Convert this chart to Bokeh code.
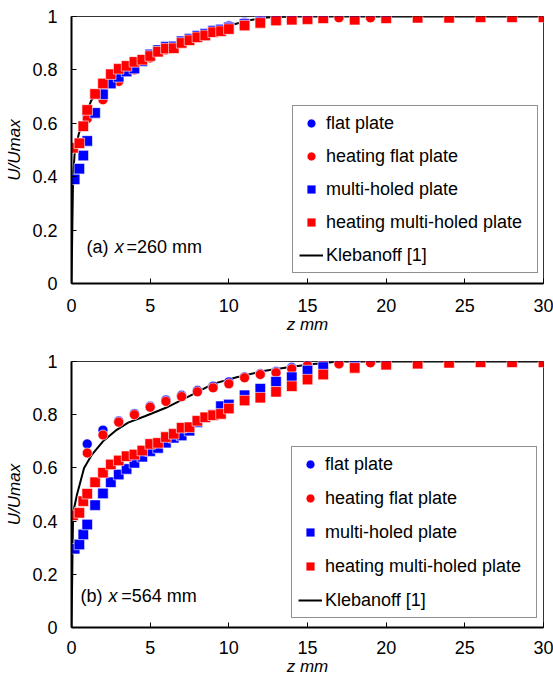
from bokeh.plotting import figure
from bokeh.layouts import column
from bokeh.models import (Range1d, FixedTicker, CustomJSTickFormatter, Legend,
                          LegendItem, Label)
from bokeh.embed import file_html
from bokeh.resources import INLINE

FONT = "Liberation Sans"

# ---------------- data: (a) x = 260 mm ----------------
a_circ_z = [1, 2, 3, 4, 5, 6, 7, 8, 9, 10, 11, 12, 13, 14, 15, 16, 17, 19]
a_flat_u = [0.63, 0.70, 0.765, 0.81, 0.852, 0.88, 0.905, 0.925, 0.948, 0.965,
            0.978, 0.988, 0.993, 0.996, 0.998, 0.999, 0.998, 0.999]
a_hflat_u = [0.617, 0.688, 0.757, 0.80, 0.845, 0.875, 0.90, 0.92, 0.943, 0.96,
             0.975, 0.985, 0.99, 0.993, 0.995, 0.997, 0.995, 0.995]
a_multi_z = [0.2, 0.5, 0.75, 1, 1.5, 2, 2.5, 3, 3.5, 4, 4.5, 5, 5.5, 6, 6.5, 7,
             7.5, 8, 8.5, 9, 9.5, 10, 11, 12, 13, 14, 15, 16, 18, 20]
a_multi_u = [0.39, 0.43, 0.479, 0.534, 0.639, 0.709, 0.749, 0.774, 0.794, 0.805,
             0.832, 0.858, 0.874, 0.887, 0.888, 0.907, 0.917, 0.928, 0.935, 0.947,
             0.951, 0.959, 0.972, 0.982, 0.99, 0.993, 0.995, 0.997, 0.995, 0.998]
a_hmulti_z = [0.1, 0.5, 0.75, 1, 1.5, 2, 2.5, 3, 3.5, 4, 4.5, 5, 5.5, 6, 6.5, 7,
              7.5, 8, 8.5, 9, 9.5, 10, 11, 12, 13, 14, 15, 16, 18, 20, 22, 24,
              26, 28, 30]
a_hmulti_u = [0.508, 0.525, 0.589, 0.65, 0.71, 0.749, 0.784, 0.804, 0.815, 0.83,
              0.838, 0.852, 0.868, 0.88, 0.881, 0.901, 0.911, 0.922, 0.929, 0.941,
              0.945, 0.953, 0.966, 0.976, 0.985, 0.988, 0.99, 0.993, 0.988, 0.993,
              0.995, 0.995, 0.997, 0.997, 0.997]
a_kleb_z = [0, 0.1, 0.2, 0.46, 1.25, 2, 3, 4, 5, 6, 7, 8, 9, 10.4, 11.4, 12.4, 14, 30]
a_kleb_u = [0, 0.40, 0.487, 0.56, 0.685, 0.74, 0.785, 0.82, 0.85, 0.875, 0.895,
            0.915, 0.94, 0.972, 0.987, 0.996, 1.0, 1.0]

# ---------------- data: (b) x = 564 mm ----------------
b_circ_z = [1, 2, 3, 4, 5, 6, 7, 8, 9, 10, 11, 12, 13, 14, 15, 16, 17, 19]
b_flat_u = [0.69, 0.742, 0.776, 0.804, 0.832, 0.855, 0.873, 0.891, 0.907, 0.923,
            0.942, 0.954, 0.962, 0.977, 0.988, 0.997, 0.994, 0.997]
b_hflat_u = [0.656, 0.724, 0.772, 0.80, 0.828, 0.85, 0.868, 0.886, 0.901, 0.916,
             0.939, 0.951, 0.958, 0.972, 0.985, 0.995, 0.991, 0.995]
b_multi_z = [0.2, 0.5, 0.75, 1, 1.5, 2, 2.5, 3, 3.5, 4, 4.5, 5, 5.5, 6, 6.5, 7,
             7.5, 8, 8.5, 9, 9.5, 10, 11, 12, 13, 14, 15, 16, 18, 20]
b_multi_u = [0.296, 0.312, 0.35, 0.387, 0.46, 0.504, 0.546, 0.575, 0.596, 0.619,
             0.642, 0.663, 0.675, 0.695, 0.713, 0.722, 0.74, 0.772, 0.79, 0.8,
             0.832, 0.838, 0.873, 0.898, 0.924, 0.941, 0.966, 0.979, 0.995, 0.998]
b_hmulti_z = [0.1, 0.5, 0.75, 1, 1.5, 2, 2.5, 3, 3.5, 4, 4.5, 5, 5.5, 6, 6.5, 7,
              7.5, 8, 8.5, 9, 9.5, 10, 11, 12, 13, 14, 15, 16, 18, 20, 22, 24,
              26, 28, 30]
b_hmulti_u = [0.422, 0.431, 0.475, 0.503, 0.546, 0.582, 0.613, 0.628, 0.644, 0.65,
              0.665, 0.69, 0.694, 0.716, 0.728, 0.751, 0.753, 0.777, 0.79, 0.798,
              0.803, 0.823, 0.853, 0.864, 0.886, 0.907, 0.932, 0.951, 0.976, 0.988,
              0.992, 0.995, 0.997, 0.997, 0.997]
b_kleb_z = [0, 0.1, 0.35, 0.8, 1.3, 2, 2.8, 3.6, 4.7, 6, 7.9, 9, 10.5, 12.2, 13.9,
            15.4, 17, 30]
b_kleb_u = [0, 0.43, 0.5, 0.6, 0.65, 0.70, 0.74, 0.77, 0.795, 0.826, 0.882, 0.916,
            0.941, 0.964, 0.979, 0.991, 1.0, 1.0]

x_ticks = [0, 5, 10, 15, 20, 25, 30]
y_ticks = [0, 0.2, 0.4, 0.6, 0.8, 1.0]
labels = ["flat plate", "heating flat plate", "multi-holed plate",
          "heating multi-holed plate", "Klebanoff [1]"]

BLUE = "#0000FF"
RED = "#FF0000"


def make_panel(height, top, bottom, xstand, circ_z, flat_u, hflat_u, multi_z,
               multi_u, hmulti_z, hmulti_u, kleb_z, kleb_u, tag, xval, tagx,
               leg_spacing, leg_loc):
    p = figure(width=553, height=height, output_backend="svg",
               toolbar_location=None, x_range=Range1d(0, 30),
               y_range=Range1d(0, 1), min_border_left=71, min_border_right=10,
               min_border_top=top, min_border_bottom=bottom)
    p.grid.visible = False
    p.outline_line_color = "#333333"
    p.outline_line_width = 1
    p.background_fill_color = "white"
    p.border_fill_color = "white"

    kl = p.line(kleb_z, kleb_u, line_color="black", line_width=2)
    r1 = p.scatter(circ_z, flat_u, marker="circle", size=10, fill_color=BLUE,
                   line_color="white", line_width=0.6)
    r2 = p.scatter(circ_z, hflat_u, marker="circle", size=10, fill_color=RED,
                   line_color="white", line_width=0.6)
    r3 = p.scatter(multi_z, multi_u, marker="square", size=10.5, fill_color=BLUE,
                   line_color="white", line_width=0.6)
    r4 = p.scatter(hmulti_z, hmulti_u, marker="square", size=10.5, fill_color=RED,
                   line_color="white", line_width=0.6)

    for ax in (p.xaxis[0], p.yaxis[0]):
        ax.axis_line_color = "black"
        ax.axis_line_width = 2
        ax.major_tick_line_color = "black"
        ax.major_tick_in = 5
        ax.major_tick_out = 0
        ax.minor_tick_line_color = None
        ax.major_label_text_font = FONT
        ax.major_label_text_font_size = "18px"
        ax.major_label_text_color = "black"
        ax.axis_label_text_font = FONT
        ax.axis_label_text_font_size = "17px"
        ax.axis_label_text_font_style = "italic"
        ax.axis_label_text_color = "black"

    p.xaxis.ticker = FixedTicker(ticks=x_ticks)
    p.yaxis.ticker = FixedTicker(ticks=y_ticks)
    p.yaxis.formatter = CustomJSTickFormatter(
        code="return (Math.round(tick*10)/10).toString();")
    p.xaxis.axis_label = "z mm"
    p.yaxis.axis_label = "U/Umax"
    p.xaxis.major_label_standoff = xstand
    p.xaxis.axis_label_standoff = 0
    p.yaxis.major_label_standoff = 14
    p.yaxis.axis_label_standoff = 5

    legend = Legend(items=[LegendItem(label=labels[0], renderers=[r1]),
                           LegendItem(label=labels[1], renderers=[r2]),
                           LegendItem(label=labels[2], renderers=[r3]),
                           LegendItem(label=labels[3], renderers=[r4]),
                           LegendItem(label=labels[4], renderers=[kl])],
                    location=leg_loc, padding=6, spacing=leg_spacing,
                    glyph_width=24, glyph_height=22, label_height=22,
                    label_standoff=3, label_width=205,
                    label_text_font=FONT, label_text_font_size="18px",
                    label_text_color="black", border_line_color="#222222",
                    border_line_width=1, background_fill_color="white",
                    background_fill_alpha=1, margin=0)
    p.add_layout(legend, "center")

    ty = tagx[3]
    p.add_layout(Label(x=tagx[0], y=ty, text=tag, text_font=FONT,
                       text_font_size="18px", text_baseline="middle",
                       text_color="black"))
    p.add_layout(Label(x=tagx[1], y=ty, text="x", text_font=FONT,
                       text_font_size="18px", text_font_style="italic",
                       text_baseline="middle", text_color="black"))
    p.add_layout(Label(x=tagx[2], y=ty, text=xval, text_font=FONT,
                       text_font_size="18px", text_baseline="middle",
                       text_color="black"))
    return p


pa = make_panel(340, 16, 57, 15, a_circ_z, a_flat_u, a_hflat_u, a_multi_z,
                a_multi_u, a_hmulti_z, a_hmulti_u, a_kleb_z, a_kleb_u, "(a)",
                "=260 mm", (0.95, 2.75, 3.5, 0.136), 11, (221, 10))
pb = make_panel(341, 21, 54, 13, b_circ_z, b_flat_u, b_hflat_u, b_multi_z,
                b_multi_u, b_hmulti_z, b_hmulti_u, b_kleb_z, b_kleb_u, "(b)",
                "=564 mm", (0.57, 2.35, 3.16, 0.118), 12, (220, 9))

layout = column(pa, pb, spacing=0)
open("out.html", "w").write(file_html(layout, INLINE))
